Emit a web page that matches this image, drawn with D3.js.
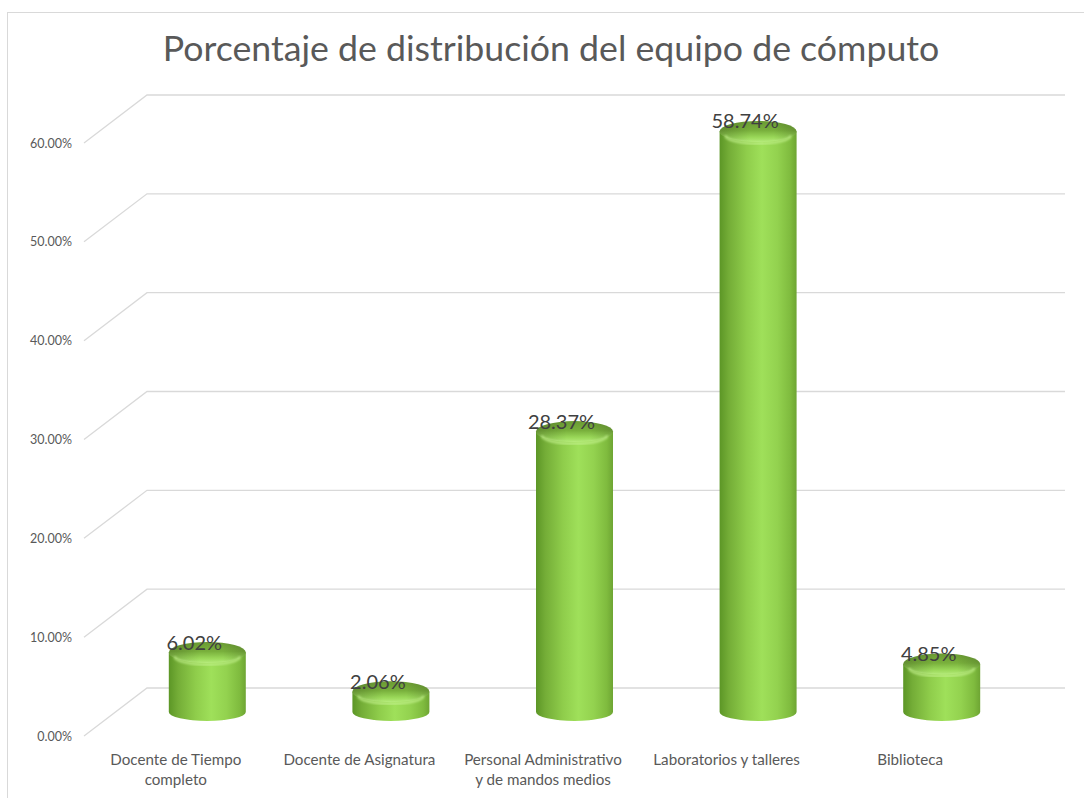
<!DOCTYPE html>
<html>
<head>
<meta charset="utf-8">
<script src="https://cdn.jsdelivr.net/npm/d3@7"></script>
<style>
  html, body { margin: 0; padding: 0; background: #ffffff; }
  svg { display: block; }
  text { font-family: Lato, "Open Sans", "DejaVu Sans", sans-serif; }
</style>
</head>
<body>
<svg id="chart" width="1084" height="798"></svg>
<script>
// ---- data ----
const title = "Porcentaje de distribución del equipo de cómputo";
const categories = [
  "Docente de Tiempo completo",
  "Docente de Asignatura",
  "Personal Administrativo y de mandos medios",
  "Laboratorios y talleres",
  "Biblioteca"
];
const values = [6.02, 2.06, 28.37, 58.74, 4.85];
const yTicks = [0, 10, 20, 30, 40, 50, 60];

// ---- layout ----
const W = 1084, H = 798;
const frontLeft = 84, frontRight = 1002;
const depthX = 63, depthY = -48;
const front0 = 736;
const svg = d3.select("#chart");

const h = d3.scaleLinear().domain([0, 60]).range([0, 593]);
const x = d3.scaleBand().domain(categories).range([frontLeft, frontRight]);

// border
svg.append("rect")
  .attr("x", 7.5).attr("y", 12.5)
  .attr("width", W + 10).attr("height", H + 10)
  .attr("fill", "none").attr("stroke", "#d9d9d9").attr("stroke-width", 1);

// title
svg.append("text")
  .attr("x", 551).attr("y", 61)
  .attr("text-anchor", "middle")
  .attr("font-size", 35.7)
  .attr("fill", "#595959")
  .text(title);

// defs / gradients
const defs = svg.append("defs");
const gBody = defs.append("linearGradient").attr("id", "gBody")
  .attr("x1", "0%").attr("x2", "100%").attr("y1", "0%").attr("y2", "0%");
[["0%", "#5c9626"], ["12%", "#74ad37"], ["35%", "#8fcd4b"], ["55%", "#9fe05a"], ["75%", "#93d24f"], ["92%", "#7fbb3e"], ["100%", "#6ea533"]]
  .forEach(([o, c]) => gBody.append("stop").attr("offset", o).attr("stop-color", c));

const gCap = defs.append("linearGradient").attr("id", "gCap")
  .attr("x1", "0%").attr("x2", "0%").attr("y1", "0%").attr("y2", "100%");
[["0%", "#6a9a33"], ["45%", "#79b03c"], ["78%", "#9ad859"], ["100%", "#b3ea78"]]
  .forEach(([o, c]) => gCap.append("stop").attr("offset", o).attr("stop-color", c));

const gCapH = defs.append("linearGradient").attr("id", "gCapH")
  .attr("x1", "0%").attr("x2", "100%").attr("y1", "0%").attr("y2", "0%");
[["0%", "#000000", 0.18], ["40%", "#000000", 0], ["70%", "#000000", 0], ["100%", "#000000", 0.15]]
  .forEach(([o, c, a]) => gCapH.append("stop").attr("offset", o).attr("stop-color", c).attr("stop-opacity", a));

defs.append("filter").attr("id", "blur").append("feGaussianBlur").attr("stdDeviation", 1.2);

// gridlines
const grid = svg.append("g");
yTicks.forEach(t => {
  const yf = front0 - h(t);
  const yb = yf + depthY;
  grid.append("path")
    .attr("d", `M${frontLeft},${yf}L${frontLeft + depthX},${yb}L${frontRight + depthX},${yb}`)
    .attr("fill", "none").attr("stroke", "#d9d9d9").attr("stroke-width", 1.3);
  grid.append("text")
    .attr("x", 72).attr("y", yf + 4.5)
    .attr("text-anchor", "end")
    .attr("font-size", 12.5)
    .attr("fill", "#595959")
    .text(d3.format(".2%")(t / 100));
});

// bars (cylinders)
const rx = 38.5, ry = 9;
const mid0 = front0 + depthY / 2;
const bars = svg.append("g");
categories.forEach((c, i) => {
  const v = values[i];
  const cx = x(c) + x.bandwidth() / 2 + depthX / 2;
  const yTop = mid0 - h(v);
  const yBot = mid0;
  const g = bars.append("g");
  g.append("path")
    .attr("d", `M${cx - rx},${yTop}L${cx - rx},${yBot}A${rx},${ry} 0 0 0 ${cx + rx},${yBot}L${cx + rx},${yTop}Z`)
    .attr("fill", "url(#gBody)");
  // cap
  g.append("ellipse")
    .attr("cx", cx).attr("cy", yTop).attr("rx", rx).attr("ry", ry + 1.5)
    .attr("fill", "url(#gCap)");
  g.append("ellipse")
    .attr("cx", cx).attr("cy", yTop).attr("rx", rx).attr("ry", ry + 1.5)
    .attr("fill", "url(#gCapH)");
  // rounded bevel highlight
  g.append("path")
    .attr("d", `M${cx - rx + 6},${yTop + 4}A${rx - 6},${ry - 1} 0 0 0 ${cx + rx - 6},${yTop + 4}`)
    .attr("fill", "none").attr("stroke", "#c2f08c").attr("stroke-width", 2.5)
    .attr("stroke-opacity", 0.8).attr("filter", "url(#blur)");
  // data label
  svg.append("text")
    .attr("x", cx - 13).attr("y", yTop - 3)
    .attr("text-anchor", "middle")
    .attr("font-size", 20)
    .attr("fill", "#404040")
    .text(d3.format(".2%")(v / 100));
});

// category labels with wrapping
const labels = svg.append("g");
categories.forEach(c => {
  const cxl = x(c) + x.bandwidth() / 2;
  const t = labels.append("text")
    .attr("x", cxl).attr("y", 765)
    .attr("text-anchor", "middle")
    .attr("font-size", 15.2)
    .attr("fill", "#595959");
  const words = c.split(" ");
  let line = [];
  let tspan = t.append("tspan").attr("x", cxl).attr("dy", 0);
  words.forEach(w => {
    line.push(w);
    tspan.text(line.join(" "));
    if (tspan.node().getComputedTextLength() > 166 && line.length > 1) {
      line.pop();
      tspan.text(line.join(" "));
      line = [w];
      tspan = t.append("tspan").attr("x", cxl).attr("dy", 20).text(w);
    }
  });
});
</script>
</body>
</html>
